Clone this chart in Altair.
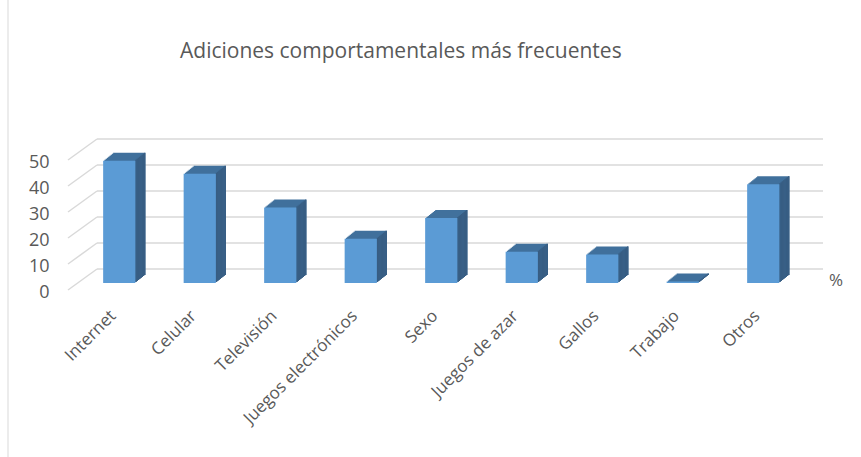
import altair as alt
import pandas as pd

categories = ["Internet", "Celular", "Televisión", "Juegos electrónicos", "Sexo",
              "Juegos de azar", "Gallos", "Trabajo", "Otros"]
values = [47, 42, 29, 17, 25, 12, 11, 0.6, 38]
y_ticks = [0, 10, 20, 30, 40, 50]
title_text = "Adiciones comportamentales más frecuentes"
unit_label = "%"

df = pd.DataFrame({"cat": categories, "val": values})
ticks_df = pd.DataFrame({"t": y_ticks})

FONT = "Open Sans"
TEXT = "#595959"
FRONT = "#5b9bd5"
TOP = "#41719c"
SIDE = "#385e84"
GRID = "#d9d9d9"

W = 724.5
H = 130
PAD = {"left": 79, "top": 153, "right": 57.5, "bottom": 174}

x_scale = alt.Scale(domain=categories, paddingInner=0.6, paddingOuter=0.3)
y_scale = alt.Scale(domain=[0, 50], nice=False, zero=True)
BAND = W / 9 * 0.4

AX = alt.Axis(labelAngle=-45, labelAlign="right", labelBaseline="middle",
              labelPadding=30, labelOffset=-6, domain=False, ticks=False, grid=False,
              title=None, labelFont=FONT, labelFontSize=17, labelColor=TEXT,
              labelLimit=400)
AY = alt.Axis(values=y_ticks, labelOffset=9, labelPadding=30,
              domain=False, ticks=False, grid=False, title=None,
              labelFont=FONT, labelFontSize=18, labelColor=TEXT)

N = 8
SX = 1.25
SY = 1.0
BACK = -14
FRONTOFF = 7


def X():
    return alt.X("cat:N", scale=x_scale, sort=categories, axis=AX)


def Y(f="val:Q"):
    return alt.Y(f, scale=y_scale, axis=AY)


layers = []

# back wall grid lines
layers.append(
    alt.Chart(ticks_df).mark_rule(color=GRID, strokeWidth=1.5, yOffset=BACK).encode(
        x=alt.value(18), x2=alt.value(744), y=Y("t:Q"),
    )
)
# side wall diagonals
layers.append(
    alt.Chart(ticks_df).mark_rule(color=GRID, strokeWidth=1.5, yOffset=BACK, y2Offset=FRONTOFF).encode(
        x=alt.value(18), x2=alt.value(-11), y=Y("t:Q"), y2="t:Q",
    )
)

# extrusion (top face) layers
for k in range(N, 0, -1):
    layers.append(
        alt.Chart(df).mark_bar(color=TOP, xOffset=k * SX, yOffset=-k * SY).encode(
            x=X(), y=Y(),
        )
    )
# side face strips
for k in range(1, N + 1):
    layers.append(
        alt.Chart(df).mark_rule(color=SIDE, strokeWidth=SX + 0.3, strokeCap="butt",
                                xOffset=BAND / 2 + (k - 0.5) * SX,
                                yOffset=-k * SY, y2Offset=-k * SY).encode(
            x=X(), y=Y(), y2=alt.datum(0),
        )
    )
# front face
layers.append(
    alt.Chart(df).mark_bar(color=FRONT).encode(x=X(), y=Y())
)

# title
layers.append(
    alt.Chart(pd.DataFrame({"t": [title_text]})).mark_text(
        font=FONT, fontSize=21, color=TEXT, align="left", baseline="middle").encode(
        x=alt.value(101), y=alt.value(-101), text="t:N")
)
# unit label
layers.append(
    alt.Chart(pd.DataFrame({"t": [unit_label]})).mark_text(
        font=FONT, fontSize=17, color=TEXT, align="left", baseline="middle").encode(
        x=alt.value(750), y=alt.value(128), text="t:N")
)
# left frame border
layers.append(
    alt.Chart(pd.DataFrame({"a": [0]})).mark_rule(color=GRID, strokeWidth=1).encode(
        x=alt.value(-71), y=alt.value(-153), y2=alt.value(304))
)

chart = alt.layer(*layers).properties(
    width=W, height=H, padding=PAD,
    autosize=alt.AutoSizeParams(type="none"),
    background="white",
).configure_view(stroke=None)

chart.save("out.html", embed_options={"renderer": "svg", "actions": False})
